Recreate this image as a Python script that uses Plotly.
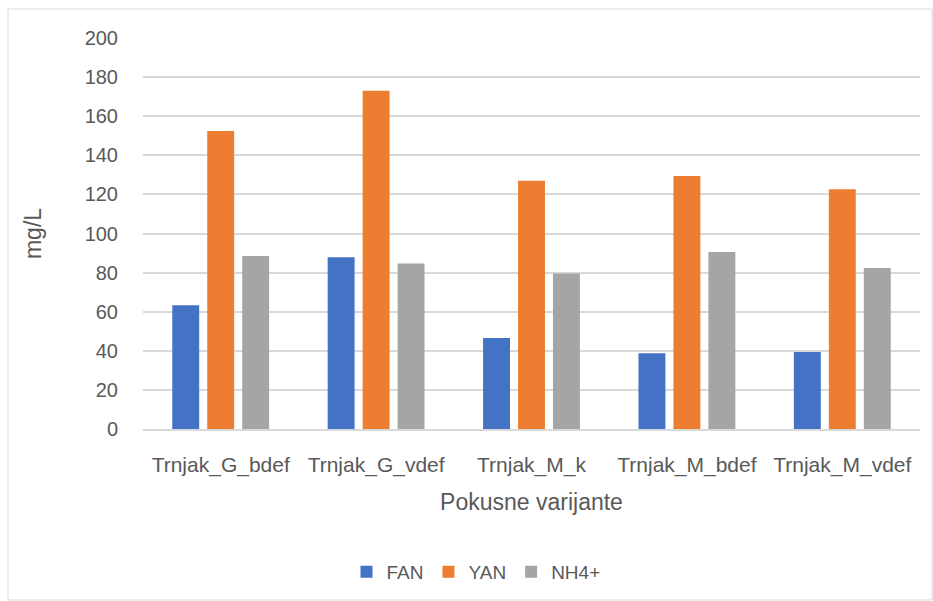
import plotly.graph_objects as go

categories = ["Trnjak_G_bdef", "Trnjak_G_vdef", "Trnjak_M_k", "Trnjak_M_bdef", "Trnjak_M_vdef"]
fan = [63.3, 87.8, 46.5, 38.7, 39.4]
yan = [152.4, 173.0, 127.0, 129.4, 122.6]
nh4 = [88.5, 84.6, 79.6, 90.5, 82.4]
series_names = ["FAN", "YAN", "NH4+"]
colors = ["#4472C4", "#ED7D31", "#A5A5A5"]
y_ticks = [0, 20, 40, 60, 80, 100, 120, 140, 160, 180, 200]

FONT = "Liberation Sans, Arial, sans-serif"
TXT = "#595959"

fig = go.Figure()
for name, vals, col in zip(series_names, [fan, yan, nh4], colors):
    fig.add_trace(go.Bar(x=categories, y=vals, name=name, marker=dict(color=col, line=dict(width=0))))

W, H = 933, 601
ml, mr, mt, mb = 143, 13, 38, 172
pw, ph = W - ml - mr, H - mt - mb

fig.update_layout(
    width=W, height=H,
    margin=dict(l=ml, r=mr, t=mt, b=mb, autoexpand=False),
    paper_bgcolor="white", plot_bgcolor="white",
    barmode="group", bargap=0.325, bargroupgap=0.23,
    font=dict(family=FONT, color=TXT, size=19),
    showlegend=True,
    legend=dict(orientation="h", x=(476 - ml) / pw, xanchor="center",
                y=-(572 - (mt + ph)) / ph, yanchor="middle",
                font=dict(size=19, color=TXT), itemwidth=30),
    xaxis=dict(showgrid=False, showline=True, linecolor="#D9D9D9", linewidth=1.5,
               ticks="", tickfont=dict(size=21, color=TXT), ticklabelstandoff=16,
               title=dict(text="Pokusne varijante", font=dict(size=23, color=TXT), standoff=18)),
    yaxis=dict(range=[0, 200], tickvals=y_ticks, showgrid=True, gridcolor="#D9D9D9", gridwidth=1.5,
               zeroline=False, showline=False, ticks="", tickfont=dict(size=20, color=TXT),
               ticklabelstandoff=24,
               title=dict(text="mg/L", font=dict(size=23, color=TXT), standoff=36)),
    shapes=[dict(type="rect", xref="paper", yref="paper",
                 x0=(8 - ml) / pw, x1=(932 - ml) / pw,
                 y0=-(600 - (mt + ph)) / ph, y1=1 + (mt - 9) / ph,
                 line=dict(color="#D9D9D9", width=1), fillcolor="rgba(0,0,0,0)", layer="below")],
)

fig.write_html("out.html", config={"displayModeBar": False},
               post_script="document.body.style.margin='0';document.body.style.overflow='hidden';")
